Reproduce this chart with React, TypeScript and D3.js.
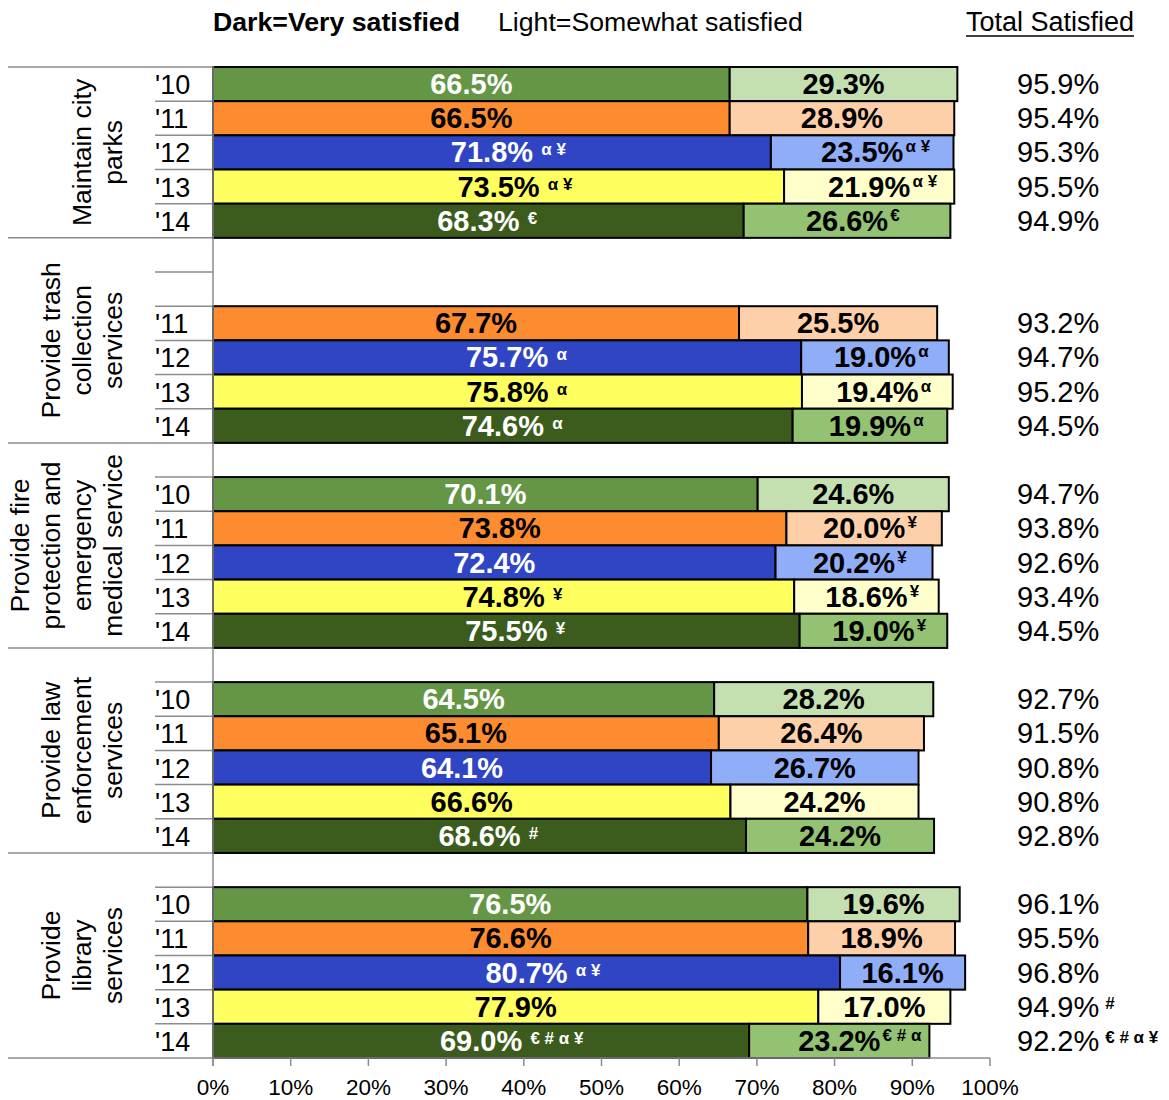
import React, { useEffect, useRef } from 'react';
import * as d3 from 'd3';

const services = [
  ['Maintain city', 'parks'],
  ['Provide trash', 'collection', 'services'],
  ['Provide fire', 'protection and', 'emergency', 'medical service'],
  ['Provide law', 'enforcement', 'services'],
  ['Provide', 'library', 'services'],
];
const years = ["'10", "'11", "'12", "'13", "'14"];
const darkFill = ['#659645', '#fd8b2f', '#2f45c4', '#ffff60', '#3c5c1e'];
const lightFill = ['#c4dfb0', '#fdd0aa', '#90aef8', '#ffffcc', '#93c272'];
const darkText = ['#fff', '#000', '#fff', '#000', '#fff'];

const verySatisfied = [
  [66.5, 66.5, 71.8, 73.5, 68.3],
  [null, 67.7, 75.7, 75.8, 74.6],
  [70.1, 73.8, 72.4, 74.8, 75.5],
  [64.5, 65.1, 64.1, 66.6, 68.6],
  [76.5, 76.6, 80.7, 77.9, 69.0],
];
const somewhatSatisfied = [
  [29.3, 28.9, 23.5, 21.9, 26.6],
  [null, 25.5, 19.0, 19.4, 19.9],
  [24.6, 20.0, 20.2, 18.6, 19.0],
  [28.2, 26.4, 26.7, 24.2, 24.2],
  [19.6, 18.9, 16.1, 17.0, 23.2],
];
const totalSatisfied = [
  [95.9, 95.4, 95.3, 95.5, 94.9],
  [null, 93.2, 94.7, 95.2, 94.5],
  [94.7, 93.8, 92.6, 93.4, 94.5],
  [92.7, 91.5, 90.8, 90.8, 92.8],
  [96.1, 95.5, 96.8, 94.9, 92.2],
];
// significance marks
const verySig = [
  ['', '', 'α ¥', 'α ¥', '€'],
  ['', '', 'α', 'α', 'α'],
  ['', '', '', '¥', '¥'],
  ['', '', '', '', '#'],
  ['', '', 'α ¥', '', '€ # α ¥'],
];
const somewhatSig = [
  ['', '', 'α ¥', 'α ¥', '€'],
  ['', '', 'α', 'α', 'α'],
  ['', '¥', '¥', '¥', '¥'],
  ['', '', '', '', ''],
  ['', '', '', '', '€ # α'],
];
const totalSig = [
  ['', '', '', '', ''],
  ['', '', '', '', ''],
  ['', '', '', '', ''],
  ['', '', '', '', ''],
  ['', '', '', '#', '€ # α ¥'],
];
const xTicks = [0, 10, 20, 30, 40, 50, 60, 70, 80, 90, 100];

const FONT = "'Liberation Sans', Arial, sans-serif";

const App = () => {
  const svgRef = useRef<SVGSVGElement>(null);

  useEffect(() => {
    const svg = d3.select(svgRef.current);
    svg.selectAll('*').remove();
    svg.attr('font-family', FONT);

    const left = 213;
    const right = 990;
    const top = 67;
    const bottom = 1058;
    const grey = '#8c8c8c';

    // slots: first group has no spacer, the rest start with a blank row
    const slots: string[] = [];
    services.forEach((_, g) => {
      if (g > 0) slots.push(`${g}-sp`);
      years.forEach((_, i) => slots.push(`${g}-${i}`));
    });

    const x = d3.scaleLinear().domain([0, 100]).range([left, right]);
    const y = d3.scaleBand().domain(slots).range([top, bottom]).padding(0);
    const bh = y.bandwidth();

    // header
    svg.append('text').attr('x', 213).attr('y', 31).attr('font-size', 26.7).attr('font-weight', 'bold').text('Dark=Very satisfied');
    svg.append('text').attr('x', 498).attr('y', 31).attr('font-size', 26.7).text('Light=Somewhat satisfied');
    svg.append('text').attr('x', 966).attr('y', 31).attr('font-size', 27).text('Total Satisfied');
    svg.append('line').attr('x1', 966).attr('x2', 1134).attr('y1', 36).attr('y2', 36).attr('stroke', '#000').attr('stroke-width', 1.5);

    const sup = (
      sel: d3.Selection<SVGTextElement, unknown, null, undefined>,
      txt: string,
      fill: string,
      gap: number,
      lift: number,
    ) => {
      if (!txt) return;
      const node = sel.node() as SVGTextElement;
      const bb = node.getBBox();
      svg.append('text')
        .attr('x', bb.x + bb.width + gap)
        .attr('y', +sel.attr('y') - lift)
        .attr('font-size', 17)
        .attr('font-weight', 'bold')
        .attr('fill', fill)
        .text(txt);
    };

    // category axis lines
    services.forEach((lines, g) => {
      const first = g > 0 ? `${g}-sp` : `${g}-0`;
      const gTop = y(first) as number;
      const gBot = (y(`${g}-4`) as number) + bh;
      svg.append('line').attr('x1', 8).attr('x2', left).attr('y1', gTop).attr('y2', gTop).attr('stroke', grey).attr('stroke-width', 1.5);
      const inner = slots.filter((s) => s.startsWith(`${g}-`)).slice(1);
      inner.forEach((s) => {
        const yy = y(s) as number;
        svg.append('line').attr('x1', 155).attr('x2', left).attr('y1', yy).attr('y2', yy).attr('stroke', grey).attr('stroke-width', 1.5);
      });
      if (g === services.length - 1) {
        svg.append('line').attr('x1', 8).attr('x2', left).attr('y1', gBot).attr('y2', gBot).attr('stroke', grey).attr('stroke-width', 1.5);
      }
      const cy = (gTop + gBot) / 2;
      const n = lines.length;
      lines.forEach((ln, i) => {
        const bx = 122 - (n - 1 - i) * 31;
        svg.append('text')
          .attr('transform', `translate(${bx},${cy}) rotate(-90)`)
          .attr('text-anchor', 'middle')
          .attr('font-size', 26.5)
          .text(ln);
      });
    });

    // bars
    services.forEach((_, g) => {
      years.forEach((yr, i) => {
        const key = `${g}-${i}`;
        const y0 = y(key) as number;
        const cy = y0 + bh / 2;
        const base = cy + 10;

        const v = verySatisfied[g][i];
        const s = somewhatSatisfied[g][i];
        const t = totalSatisfied[g][i];
        if (v == null || s == null || t == null) return;

        svg.append('text').attr('x', 155).attr('y', base).attr('font-size', 27).text(yr);

        svg.append('rect')
          .attr('x', x(0)).attr('y', y0)
          .attr('width', x(v) - x(0)).attr('height', bh)
          .attr('fill', darkFill[i]).attr('stroke', '#000').attr('stroke-width', 2);
        svg.append('rect')
          .attr('x', x(v)).attr('y', y0)
          .attr('width', x(v + s) - x(v)).attr('height', bh)
          .attr('fill', lightFill[i]).attr('stroke', '#000').attr('stroke-width', 2);

        const dl = svg.append('text')
          .attr('x', (x(0) + x(v)) / 2).attr('y', base)
          .attr('text-anchor', 'middle').attr('font-size', 29).attr('font-weight', 'bold')
          .attr('fill', darkText[i]).text(`${v.toFixed(1)}%`);
        sup(dl, verySig[g][i], darkText[i], 8, 7);

        const ll = svg.append('text')
          .attr('x', (x(v) + x(v + s)) / 2).attr('y', base)
          .attr('text-anchor', 'middle').attr('font-size', 29).attr('font-weight', 'bold')
          .attr('fill', '#000').text(`${s.toFixed(1)}%`);
        sup(ll, somewhatSig[g][i], '#000', 2, 10);

        const tl = svg.append('text')
          .attr('x', 1017).attr('y', base)
          .attr('font-size', 29).text(`${t.toFixed(1)}%`);
        sup(tl, totalSig[g][i], '#000', 6, 8);
      });
    });

    // value axis
    svg.append('line').attr('x1', left).attr('x2', left).attr('y1', top - 1).attr('y2', bottom + 8).attr('stroke', grey).attr('stroke-width', 1.5);
    svg.append('line').attr('x1', left).attr('x2', right).attr('y1', bottom).attr('y2', bottom).attr('stroke', grey).attr('stroke-width', 1.5);
    xTicks.forEach((tk) => {
      svg.append('line').attr('x1', x(tk)).attr('x2', x(tk)).attr('y1', bottom).attr('y2', bottom + 8).attr('stroke', grey).attr('stroke-width', 1.5);
      svg.append('text').attr('x', x(tk)).attr('y', 1095).attr('text-anchor', 'middle').attr('font-size', 22.5).text(`${tk}%`);
    });
  }, []);

  return (
    <div className="satisfaction-chart">
      <svg ref={svgRef} width={1169} height={1100} style={{ position: 'absolute', left: 0, top: 0 }}></svg>
    </div>
  );
};

export default App;
